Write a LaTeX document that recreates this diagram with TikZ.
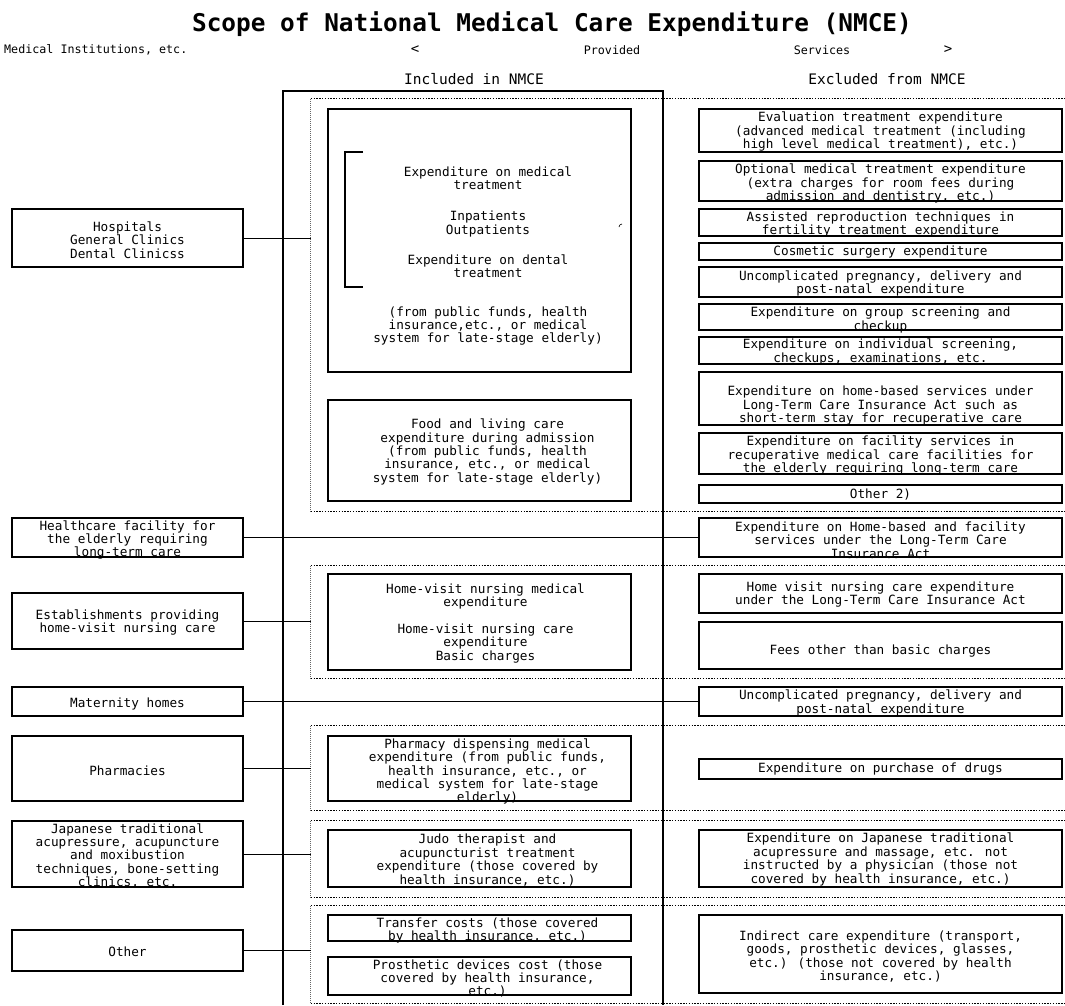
\documentclass[tikz,border=0pt]{standalone}
\usepackage{fontspec}
\newfontfamily\gothic{DejaVu Sans Mono}

\tikzset{
  txt/.style={font=\gothic\fontsize{12.7}{13.4}\selectfont, align=center, inner sep=0pt},
  box/.style={draw, line width=1.3pt, inner sep=0pt},
  lbox/.style={box, minimum width=231pt, minimum height=#1},
  mbox/.style={box, minimum width=303pt, minimum height=#1},
  rbox/.style={box, line width=1.6pt, minimum width=363pt, minimum height=#1},
  grp/.style={inner sep=0pt, minimum width=754pt, minimum height=#1},
  dotline/.style={line width=1.2pt, dash pattern=on 1.4pt off 1.4pt},
  sideline/.style={line width=0.8pt, black!60, dash pattern=on 1pt off 1pt},
  conn/.style={line width=1pt},
  head/.style={font=\gothic\fontsize{11.7}{13}\selectfont, inner sep=0pt},
}

\begin{document}
\begin{tikzpicture}[x=1pt,y=-1pt]
\useasboundingbox (0,0) rectangle (1065,1005);

% headings
\node[font=\gothic\bfseries\fontsize{24.4}{26}\selectfont, inner sep=0pt] (title) at (552,24) {Scope of National Medical Care Expenditure (NMCE)};
\node[head, anchor=west] (inst) at (4,50) {Medical Institutions, etc.};
\node[head, font=\gothic\fontsize{14}{14}\selectfont] (lt) at (415,50) {<};
\node[head] (prov) at (612,50) {Provided};
\node[head] (serv) at (822,50) {Services};
\node[head, font=\gothic\fontsize{14}{14}\selectfont] (gt) at (948,50) {>};
\node[font=\gothic\fontsize{14.5}{16}\selectfont, inner sep=0pt] (incl) at (474,79) {Included in NMCE};
\node[font=\gothic\fontsize{14.5}{16}\selectfont, inner sep=0pt] (excl) at (887,79) {Excluded from NMCE};

% NMCE frame
\draw[line width=2.5pt] (283,1005) -- (283,91) -- (663,91) -- (663,1005);

% dotted groups
\node[grp=412pt] (g1) at (688,305) {};
\node[grp=112pt] (g2) at (688,622) {};
\node[grp=84pt] (g3) at (688,768) {};
\node[grp=76pt] (g4) at (688,859) {};
\node[grp=97pt] (g5) at (688,954.5) {};
\foreach \g in {g1,g2,g3,g4,g5}{
  \draw[dotline] (\g.north west) -- (\g.north east);
  \draw[dotline] (\g.south west) -- (\g.south east);
  \draw[sideline] (\g.north west) -- (\g.south west);
}

% medical institutions
\node[lbox=58pt] (hosp) at (127.5,238) {};
\node[txt] (hospt) at ([yshift=-2pt]hosp.center) {Hospitals\\General Clinics\\Dental Clinicss};
\node[lbox=39pt] (hcf) at (127.5,537.5) {};
\node[txt] (hcft) at ([yshift=-2.5pt]hcf.center) {Healthcare facility for\\the elderly requiring\\long-term care};
\node[lbox=56pt] (est) at (127.5,621) {};
\node[txt] (estt) at ([yshift=-1.5pt]est.center) {Establishments providing\\home-visit nursing care};
\node[lbox=29pt] (mat) at (127.5,701.5) {};
\node[txt] (matt) at ([yshift=-2.5pt]mat.center) {Maternity homes};
\node[lbox=65pt] (pha) at (127.5,768.5) {};
\node[txt] (phat) at ([yshift=-2pt]pha.center) {Pharmacies};
\node[lbox=66pt] (jap) at (127.5,854) {};
\node[txt] (japt) at ([yshift=-2pt]jap.center) {Japanese traditional\\acupressure, acupuncture\\and moxibustion\\techniques, bone-setting\\clinics, etc.};
\node[lbox=41pt] (oth) at (127.5,950.5) {};
\node[txt] (otht) at ([yshift=-1pt]oth.center) {Other};

% included in NMCE
\node[mbox=263pt] (med) at (479.5,240.5) {};
\node[txt] (mt1) at (488,178) {Expenditure on medical\\treatment};
\node[txt] (mt2) at (488,224) {Inpatients\\Outpatients};
\node[txt] (mt3) at (488,266) {Expenditure on dental\\treatment};
\node[txt] (mt4) at (488,326) {(from public funds, health\\insurance,etc., or medical\\system for late-stage elderly)};
\draw[line width=1.8pt] (363,152) -- (345,152) -- (345,287) -- (363,287);
\draw[line width=0.6pt] (619,227) arc (180:270:3);

\node[mbox=101pt] (food) at (479.5,450.5) {};
\node[txt] (foodt) at ([xshift=8pt,yshift=-1.5pt]food.center) {Food and living care\\expenditure during admission\\(from public funds, health\\insurance, etc., or medical\\system for late-stage elderly)};
\node[mbox=96pt] (hvn) at (479.5,622) {};
\node[txt] (hvnt) at ([xshift=6pt,yshift=-1pt]hvn.center) {Home-visit nursing medical\\expenditure\\\mbox{}\\Home-visit nursing care\\expenditure\\Basic charges};
\node[mbox=65pt] (phd) at (479.5,768.5) {};
\node[txt] (phdt) at ([xshift=8pt,yshift=-3pt]phd.center) {Pharmacy dispensing medical\\expenditure (from public funds,\\health insurance, etc., or\\medical system for late-stage\\elderly)};
\node[mbox=57pt] (judo) at (479.5,858.5) {};
\node[txt] (judot) at ([xshift=8pt,yshift=-1.5pt]judo.center) {Judo therapist and\\acupuncturist treatment\\expenditure (those covered by\\health insurance, etc.)};
\node[mbox=26pt] (trf) at (479.5,928) {};
\node[txt] (trft) at ([xshift=8pt,yshift=-2.5pt]trf.center) {Transfer costs (those covered\\by health insurance, etc.)};
\node[mbox=38pt] (pros) at (479.5,976) {};
\node[txt] (prost) at ([xshift=8pt,yshift=-2.5pt]pros.center) {Prosthetic devices cost (those\\covered by health insurance,\\etc.)};

% excluded from NMCE
\node[rbox=43pt] (eval) at (880.5,130.5) {};
\node[txt] (evalt) at ([yshift=-1pt]eval.center) {Evaluation treatment expenditure\\(advanced medical treatment (including\\high level medical treatment), etc.)};
\node[rbox=40pt] (opt) at (880.5,181) {};
\node[txt] (optt) at ([yshift=-2.5pt]opt.center) {Optional medical treatment expenditure\\(extra charges for room fees during\\admission and dentistry, etc.)};
\node[rbox=27pt] (art) at (880.5,222.5) {};
\node[txt] (artt) at ([yshift=-2pt]art.center) {Assisted reproduction techniques in\\fertility treatment expenditure};
\node[rbox=17pt] (cos) at (880.5,251.5) {};
\node[txt] (cost) at ([yshift=-1pt]cos.center) {Cosmetic surgery expenditure};
\node[rbox=30pt] (preg) at (880.5,282) {};
\node[txt] (pregt) at ([yshift=-1.5pt]preg.center) {Uncomplicated pregnancy, delivery and\\post-natal expenditure};
\node[rbox=26pt] (scr) at (880.5,317) {};
\node[txt] (scrt) at ([yshift=-3pt]scr.center) {Expenditure on group screening and\\checkup};
\node[rbox=27pt] (indv) at (880.5,350.5) {};
\node[txt] (indvt) at ([yshift=-1.5pt]indv.center) {Expenditure on individual screening,\\checkups, examinations, etc.};
\node[rbox=53pt] (homeb) at (880.5,398.5) {};
\node[txt] (homebt) at ([yshift=-7pt]homeb.center) {Expenditure on home-based services under\\Long-Term Care Insurance Act such as\\short-term stay for recuperative care};
\node[rbox=41pt] (facil) at (880.5,453.5) {};
\node[txt] (facilt) at ([yshift=-2pt]facil.center) {Expenditure on facility services in\\recuperative medical care facilities for\\the elderly requiring long-term care};
\node[rbox=18pt] (other2) at (880.5,494) {};
\node[txt] (other2t) at ([yshift=-1pt]other2.center) {Other 2)};
\node[rbox=39pt] (ltc) at (880.5,537.5) {};
\node[txt] (ltct) at ([yshift=-2.5pt]ltc.center) {Expenditure on Home-based and facility\\services under the Long-Term Care\\Insurance Act};
\node[rbox=39pt] (hvc) at (880.5,593.5) {};
\node[txt] (hvct) at ([yshift=-1pt]hvc.center) {Home visit nursing care expenditure\\under the Long-Term Care Insurance Act};
\node[rbox=47pt] (fees) at (880.5,645.5) {};
\node[txt] (feest) at ([yshift=-5.5pt]fees.center) {Fees other than basic charges};
\node[rbox=29pt] (preg2) at (880.5,701.5) {};
\node[txt] (preg2t) at ([yshift=-1.5pt]preg2.center) {Uncomplicated pregnancy, delivery and\\post-natal expenditure};
\node[rbox=20pt] (drug) at (880.5,769) {};
\node[txt] (drugt) at ([yshift=-0.5pt]drug.center) {Expenditure on purchase of drugs};
\node[rbox=57pt] (japx) at (880.5,858.5) {};
\node[txt] (japxt) at ([yshift=-1pt]japx.center) {Expenditure on Japanese traditional\\acupressure and massage, etc. not\\instructed by a physician (those not\\covered by health insurance, etc.)};
\node[rbox=78pt] (indir) at (880.5,954) {};
\node[txt] (indirt) at ([yshift=-2.5pt]indir.center) {Indirect care expenditure (transport,\\goods, prosthetic devices, glasses,\\etc.) (those not covered by health\\insurance, etc.)};

% connectors
\draw[conn] (hosp.east) -- (hosp.east -| g1.west);
\draw[conn] (hcf.east) -- (ltc.west);
\draw[conn] (est.east) -- (est.east -| g2.west);
\draw[conn] (mat.east) -- (preg2.west);
\draw[conn] (pha.east) -- (pha.east -| g3.west);
\draw[conn] (jap.east) -- (jap.east -| g4.west);
\draw[conn] (oth.east) -- (oth.east -| g5.west);
\end{tikzpicture}
\end{document}
